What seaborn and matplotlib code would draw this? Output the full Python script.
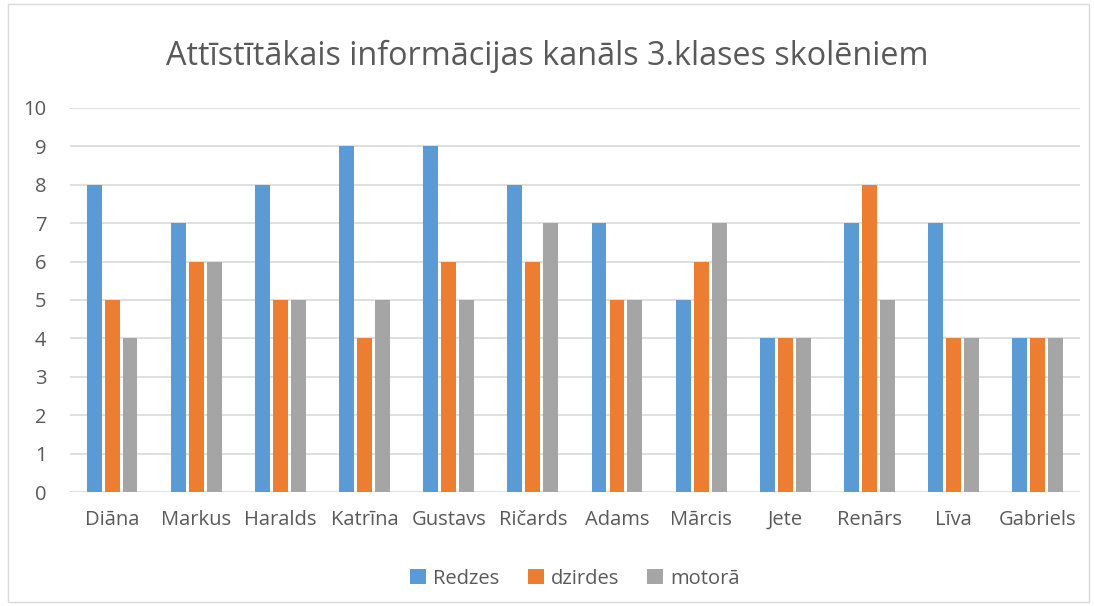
import pandas as pd
import seaborn as sns
import matplotlib.pyplot as plt
from matplotlib.patches import Rectangle

# dati no diagrammas
names = ['Diāna', 'Markus', 'Haralds', 'Katrīna', 'Gustavs', 'Ričards',
         'Adams', 'Mārcis', 'Jete', 'Renārs', 'Līva', 'Gabriels']
redzes = [8, 7, 8, 9, 9, 8, 7, 5, 4, 7, 7, 4]
dzirdes = [5, 6, 5, 4, 6, 6, 5, 6, 4, 8, 4, 4]
motora = [4, 6, 5, 5, 5, 7, 5, 7, 4, 5, 4, 4]
series = ['Redzes', 'dzirdes', 'motorā']
colors = ['#5B9BD5', '#ED7D31', '#A5A5A5']

df = pd.DataFrame({'name': names, 'Redzes': redzes, 'dzirdes': dzirdes, 'motorā': motora})
long_df = df.melt(id_vars='name', var_name='kanāls', value_name='vērtība')

sns.set_theme(style='white')
plt.rcParams['font.family'] = ['Open Sans', 'DejaVu Sans']
text_color = '#595959'

fig = plt.figure(figsize=(10.94, 6.06), dpi=100)
ax = fig.add_axes([0.064, 0.188, 0.923, 0.634])

sns.barplot(data=long_df, x='name', y='vērtība', hue='kanāls', hue_order=series,
            palette=colors, width=0.64, gap=0.17, saturation=1, linewidth=0,
            ax=ax, legend=True)

ax.set_ylim(0, 10)
ax.set_yticks(range(0, 11))
ax.set_xlim(-0.5, len(names) - 0.5)
ax.yaxis.grid(True, color='#D9D9D9', linewidth=1.2)
ax.set_axisbelow(True)
for s in ax.spines.values():
    s.set_visible(False)
ax.set_xlabel('')
ax.set_ylabel('')
ax.tick_params(axis='both', length=0, labelsize=14.5, colors=text_color)
ax.tick_params(axis='x', pad=13)
ax.tick_params(axis='y', pad=17)

fig.suptitle('Attīstītākais informācijas kanāls 3.klases skolēniem',
             fontsize=23.3, color=text_color, y=0.935)

handles, labels = ax.get_legend_handles_labels()
ax.legend(handles, labels, loc='center', bbox_to_anchor=(0.5, -0.225), ncol=3,
          frameon=False, fontsize=14.5, labelcolor=text_color,
          handlelength=0.8, handleheight=0.8, handletextpad=0.35, columnspacing=1.4)

fig.patches.append(Rectangle((0.007, 0.006), 0.988, 0.988, transform=fig.transFigure,
                             fill=False, edgecolor='#D9D9D9', linewidth=1))

fig.savefig('out.png', dpi=100)
